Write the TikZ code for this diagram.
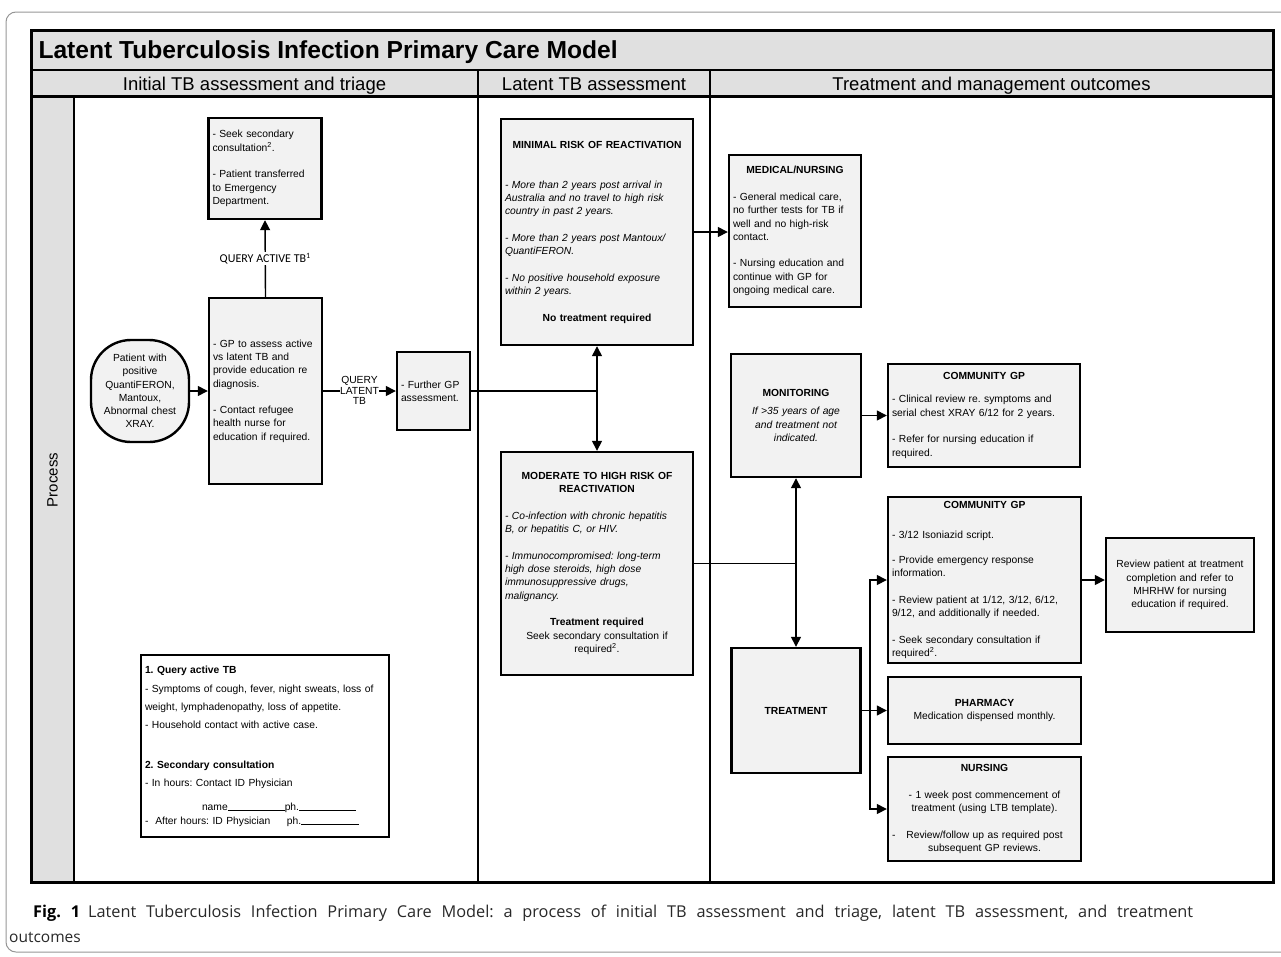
\documentclass[tikz,border=0pt]{standalone}
\usepackage{fontspec}
\setmainfont{Liberation Sans}
\newfontfamily\calibrifont{Carlito}
\newfontfamily\capfont{Open Sans}
\usetikzlibrary{arrows.meta,positioning}
\newcommand{\boxhead}[1]{\makebox[\hsize]{#1}}
\frenchspacing

\begin{document}
\begin{tikzpicture}[x=1pt,y=-1pt,
  every node/.style={font=\fontsize{10.3}{13.3}\selectfont},
  box/.style={draw,line width=2.4pt,fill=BoxGrey,inner xsep=4pt,inner ysep=2pt,align=left},
  midbox/.style={box,align=center},
  arr/.style={line width=1.4pt,-{Triangle[length=10pt,width=10pt]}},
  link/.style={line width=1.4pt},
  headtxt/.style={anchor=base,font=\fontsize{18.5}{20}\selectfont},
  tag/.style={fill=white,inner sep=1pt}]
\definecolor{BoxGrey}{RGB}{242,242,242}
\definecolor{BandGrey}{RGB}{224,224,224}
\definecolor{FrameGrey}{RGB}{150,150,150}
\definecolor{CapText}{RGB}{40,40,40}
\useasboundingbox (0,0) rectangle (1281,956);
\draw[FrameGrey,line width=1pt,rounded corners=10pt] (6,12) rectangle (1320,952);

% swimlane frame
\fill[BandGrey] (31,30) rectangle (1273,96);
\fill[BandGrey] (31,96) rectangle (74,882);
\draw[line width=2pt] (31,70) -- (1273,70);
\draw[line width=3pt] (31,96) -- (1273,96);
\draw[line width=1.5pt] (74,96) -- (74,882);
\foreach \x in {478,710}{
\draw[line width=2pt] (\x,70) -- (\x,882);
}
\draw[line width=3pt] (31,30) rectangle (1273,882);

\node[anchor=base west,font=\fontsize{24.6}{28}\selectfont\bfseries] (title) at (35,58) {Latent Tuberculosis Infection Primary Care Model};
\foreach \x/\t [count=\i] in {254.5/Initial TB assessment and triage, 594/Latent TB assessment, 991.5/Treatment and management outcomes}{
\node[headtxt] (head\i) at (\x,90) {\t};
}
\node[rotate=90,font=\fontsize{15}{18}\selectfont] (lane) at (52.5,480) {Process};

% initial assessment
\node[box,minimum width=113pt,minimum height=101pt,text width=105pt] (sec) at (265,168.5)
  {- Seek secondary\\ consultation\textsuperscript{2}.\\[13.3pt] - Patient transferred\\ to Emergency\\ Department.};
\node[box,minimum width=113pt,minimum height=186pt,text width=105pt] (gp) at (265.5,391)
  {- GP to assess active\\ vs latent TB and\\ provide education re\\ diagnosis.\\[13.3pt] - Contact refugee\\ health nurse for\\ education if required.};
\node[midbox,rounded corners=40pt,minimum width=98pt,minimum height=102pt,text width=90pt] (pat) at (140,391)
  {Patient with\\ positive\\ QuantiFERON,\\ Mantoux,\\ Abnormal chest\\ XRAY.};
\node[box,minimum width=73pt,minimum height=78pt,text width=65pt] (fgp) at (433.5,391)
  {- Further GP\\ assessment.};
\node[draw,line width=2pt,fill=white,inner xsep=4pt,align=left,text width=240pt,minimum width=248pt,minimum height=182pt,font=\fontsize{10.3}{18}\selectfont] (notes) at (265,746)
  {\textbf{1. Query active TB}\\[1pt]
   - Symptoms of cough, fever, night sweats, loss of\\
   weight, lymphadenopathy, loss of appetite.\\
   - Household contact with active case.\\[22pt]
   \textbf{2. Secondary consultation}\\
   - In hours: Contact ID Physician\\[6pt]
   \hspace*{57pt}name\rule[-1pt]{57pt}{0.8pt}ph.\rule[-1pt]{57pt}{0.8pt}\\[-4pt]
   \makebox[142pt][l]{-\ \ After hours: ID Physician}ph.\rule[-1pt]{58pt}{0.8pt}};

% latent assessment
\node[box,minimum width=192pt,minimum height=226pt,text width=184pt] (minimal) at (597,232)
  {\boxhead{\bfseries MINIMAL RISK OF REACTIVATION}\\[26.7pt]
   \itshape - More than 2 years post arrival in\\ Australia and no travel to high risk\\ country in past 2 years.\\[13.3pt]
   - More than 2 years post Mantoux/\\ QuantiFERON.\\[13.3pt]
   - No positive household exposure\\ within 2 years.\\[13.3pt]
   \boxhead{\upshape\bfseries No treatment required}};
\node[box,minimum width=192pt,minimum height=223pt,text width=184pt] (moderate) at (597,563.5)
  {\boxhead{\bfseries MODERATE TO HIGH RISK OF}\\
   \boxhead{\bfseries REACTIVATION}\\[13.3pt]
   \itshape - Co-infection with chronic hepatitis\\ B, or hepatitis C, or HIV.\\[13.3pt]
   - Immunocompromised: long-term\\ high dose steroids, high dose\\ immunosuppressive drugs,\\ malignancy.\\[13.3pt]
   \upshape\boxhead{\bfseries Treatment required}\\
   \boxhead{Seek secondary consultation if}\\
   \boxhead{required\textsuperscript{2}.}};

% outcomes
\node[box,minimum width=132pt,minimum height=152pt,text width=124pt] (medical) at (795,231)
  {\boxhead{\bfseries MEDICAL/NURSING}\\[13.3pt]
   - General medical care,\\ no further tests for TB if\\ well and no high-risk\\ contact.\\[13.3pt]
   - Nursing education and\\ continue with GP for\\ ongoing medical care.};
\node[midbox,minimum width=130pt,minimum height=123pt,text width=122pt] (monitor) at (796,415.5)
  {\textbf{MONITORING}\\[4.7pt] \itshape If >35 years of age\\ and treatment not\\ indicated.};
\node[box,minimum width=192pt,minimum height=103pt,text width=184pt] (cgpa) at (984,415.5)
  {\boxhead{\bfseries COMMUNITY GP}\\[9.7pt]
   - Clinical review re. symptoms and\\ serial chest XRAY 6/12 for 2 years.\\[13.3pt]
   - Refer for nursing education if\\ required.};
\node[midbox,minimum width=129pt,minimum height=125pt,text width=121pt] (treat) at (796,710.5)
  {\textbf{TREATMENT}};
\node[box,minimum width=193pt,minimum height=166pt,text width=185pt] (cgpb) at (984.5,580)
  {\boxhead{\bfseries COMMUNITY GP}\\[16.7pt]
   - 3/12 Isoniazid script.\\[11.7pt]
   - Provide emergency response\\ information.\\[13.3pt]
   - Review patient at 1/12, 3/12, 6/12,\\ 9/12, and additionally if needed.\\[13.3pt]
   - Seek secondary consultation if\\ required\textsuperscript{2}.};
\node[midbox,minimum width=193pt,minimum height=67pt,text width=185pt] (pharm) at (984.5,710.5)
  {\textbf{PHARMACY}\\ Medication dispensed monthly.};
\node[box,minimum width=193pt,minimum height=104pt,text width=185pt] (nurse) at (984.5,809)
  {\boxhead{\bfseries NURSING}\\[13.3pt]
   \boxhead{- 1 week post commencement of}\\
   \boxhead{treatment (using LTB template).}\\[13.3pt]
   \makebox[0pt][l]{-}\boxhead{Review/follow up as required post}\\
   \boxhead{subsequent GP reviews.}};
\node[midbox,minimum width=148pt,minimum height=94pt,text width=140pt] (review) at (1180,585)
  {Review patient at treatment\\ completion and refer to\\ MHRHW for nursing\\ education if required.};

% connectors
\draw[arr] (pat.east) -- (gp.west);
\draw[arr] (gp.north) -- node[tag,font=\calibrifont\fontsize{12}{14}\selectfont] (qactive) {QUERY ACTIVE TB\textsuperscript{1}} (sec.south);
\draw[arr] (gp.east) -- node[tag,inner sep=0.5pt,label={[inner sep=0.5pt]above:QUERY},label={[inner sep=0.5pt]below:TB}] (qlatent) {LATENT} (fgp.west);
\coordinate (split) at (597,391);
\draw[link] (fgp.east) -- (split);
\draw[arr] (split) -- (minimal.south);
\draw[arr] (split) -- (moderate.north);
\draw[arr] (minimal.east) -- (minimal.east -| medical.west);
\coordinate (fork) at (796,563.5);
\draw[link] (moderate.east) -- (fork);
\draw[arr] (fork) -- (monitor.south);
\draw[arr] (fork) -- (treat.north);
\draw[arr] (monitor.east) -- (cgpa.west);
\coordinate (branch) at (870,710.5);
\draw[link] (treat.east) -- (branch);
\draw[arr] (branch) |- (cgpb.west);
\draw[arr] (branch) -- (pharm.west);
\draw[arr] (branch) |- (nurse.west);
\draw[arr] (cgpb.east) -- (cgpb.east -| review.west);

% caption
\node[anchor=base west,inner sep=0pt,text=CapText,font=\capfont\fontsize{16.3}{20}\selectfont] (capa) at (33,917)
  {\makebox[1160pt][s]{\textbf{\color{black}Fig.~1}\hspace{8pt}Latent Tuberculosis Infection Primary Care Model: a process of initial TB assessment and triage, latent TB assessment, and treatment}};
\node[anchor=base west,inner sep=0pt,text=CapText,font=\capfont\fontsize{15.5}{20}\selectfont] (capb) at (9,942) {outcomes};
\end{tikzpicture}
\end{document}
